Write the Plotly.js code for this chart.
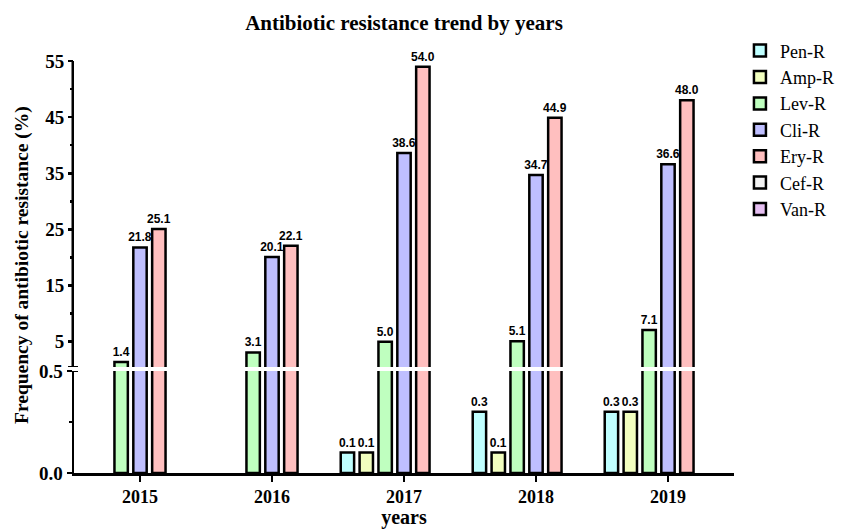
<!DOCTYPE html>
<html>
<head>
<meta charset="utf-8">
<script src="https://cdn.plot.ly/plotly-3.0.1.min.js"></script>
<style>html,body{margin:0;padding:0;background:#fff;}</style>
</head>
<body>
<div id="chart" style="width:860px;height:529px;"></div>
<script>
// ---- data ----
const years = ['2015', '2016', '2017', '2018', '2019'];
const seriesNames = ['Pen-R', 'Amp-R', 'Lev-R', 'Cli-R', 'Ery-R', 'Cef-R', 'Van-R'];
const penR = [0, 0, 0.1, 0.3, 0.3];
const ampR = [0, 0, 0.1, 0.1, 0.3];
const levR = [1.4, 3.1, 5.0, 5.1, 7.1];
const cliR = [21.8, 20.1, 38.6, 34.7, 36.6];
const eryR = [25.1, 22.1, 54.0, 44.9, 48.0];
const cefR = [0, 0, 0, 0, 0];
const vanR = [0, 0, 0, 0, 0];
const upperTicks = [5, 15, 25, 35, 45, 55];
const upperMinor = [10, 20, 30, 40, 50];
const lowerTicks = [0, 0.5];
const lowerTickText = ['0.0', '0.5'];
const breakValue = 0.5;

const seriesValues = [penR, ampR, levR, cliR, eryR, cefR, vanR];
const colors = ['#BFFFFF', '#F2FFBF', '#BFFFBF', '#BFBFFF', '#FFBFBF', '#F2F2F2', '#E6BFF2'];

const serif = 'Liberation Serif, Times New Roman, serif';
const sans = 'Liberation Sans, Arial, sans-serif';

const traces = [];
seriesValues.forEach((vals, i) => {
  const common = {
    type: 'bar', x: years, name: seriesNames[i],
    marker: {color: colors[i], line: {color: '#000', width: 2.5}},
    textposition: 'outside', constraintext: 'none', cliponaxis: true,
    textfont: {family: sans, size: 12, color: '#000', weight: 'bold'},
    hoverinfo: 'x+y+name'
  };
  // upper segment (values above the break)
  traces.push(Object.assign({}, common, {
    yaxis: 'y2', legendgroup: seriesNames[i], showlegend: true,
    y: vals.map(v => v > breakValue ? v : null),
    text: vals.map(v => v > breakValue ? v.toFixed(1) : '')
  }));
  // lower segment (0 .. break)
  traces.push(Object.assign({}, common, {
    yaxis: 'y', legendgroup: seriesNames[i], showlegend: false,
    y: vals.map(v => v > 0 ? v : null),
    text: vals.map(v => (v > 0 && v <= breakValue) ? v.toFixed(1) : '')
  }));
});

const tickFont = {family: serif, size: 19, color: '#000', weight: 'bold'};
const xTickFont = {family: serif, size: 18, color: '#000', weight: 'bold'};
const titleFont = {family: serif, size: 20, color: '#000', weight: 'bold'};

const layout = {
  width: 860, height: 529,
  margin: {l: 74, r: 126, t: 44, b: 56},
  paper_bgcolor: '#fff', plot_bgcolor: 'rgba(0,0,0,0)',
  font: {family: serif, color: '#000'},
  barmode: 'group', bargap: 0, bargroupgap: 0.29,
  title: {
    text: '<b>Antibiotic resistance trend by years</b>',
    font: {family: serif, size: 21, color: '#000'},
    xref: 'paper', x: 0.5, xanchor: 'center',
    yref: 'container', y: 0.958, yanchor: 'middle'
  },
  xaxis: {
    type: 'category', range: [-0.5, 4.5], anchor: 'y',
    showline: true, linecolor: '#000', linewidth: 2.5,
    ticks: 'outside', ticklen: 6, tickwidth: 2.5, tickcolor: '#000',
    tickfont: xTickFont, showgrid: false, zeroline: false,
    title: {text: '<b>years</b>', font: titleFont, standoff: 6}
  },
  yaxis: {
    domain: [0, 0.2378], range: [0, 0.5],
    tickmode: 'array', tickvals: lowerTicks, ticktext: lowerTickText,
    minor: {tickmode: 'array', tickvals: [0.25], ticks: 'outside', ticklen: 3, tickwidth: 2.5, tickcolor: '#000', showgrid: false},
    showline: true, linecolor: '#000', linewidth: 2.5,
    ticks: 'outside', ticklen: 5, tickwidth: 2.5, tickcolor: '#000',
    tickfont: tickFont, showgrid: false, zeroline: false
  },
  yaxis2: {
    domain: [0.2471, 1], range: [0.5, 58.03], anchor: 'x',
    tickmode: 'array', tickvals: upperTicks,
    minor: {tickmode: 'array', tickvals: upperMinor, ticks: 'outside', ticklen: 3, tickwidth: 2.5, tickcolor: '#000', showgrid: false},
    showline: false,
    ticks: 'outside', ticklen: 5, tickwidth: 2.5, tickcolor: '#000',
    tickfont: tickFont, showgrid: false, zeroline: false
  },
  legend: {
    x: 1.009, xanchor: 'left', y: 1.027, yanchor: 'top',
    font: {family: serif, size: 18, color: '#000'},
    bgcolor: 'rgba(0,0,0,0)', borderwidth: 0, traceorder: 'normal'
  },
  annotations: [{
    text: '<b>Frequency of antibiotic resistance (%)</b>',
    textangle: -90, showarrow: false,
    xref: 'paper', x: 0, xshift: -52, xanchor: 'center',
    yref: 'paper', y: 0.485, yanchor: 'middle',
    font: {family: serif, size: 19.5, color: '#000'}
  }],
  shapes: [
    {type: 'line', xref: 'paper', xsizemode: 'pixel', xanchor: 0, x0: -1.25, x1: -1.25,
     yref: 'y2', y0: breakValue, y1: 55, line: {color: '#000', width: 2.5}},
    {type: 'line', xref: 'paper', xsizemode: 'pixel', xanchor: 0, x0: -6, x1: 4,
     yref: 'y2', y0: breakValue, y1: breakValue, line: {color: '#000', width: 2}},
    {type: 'line', xref: 'paper', xsizemode: 'pixel', xanchor: 0, x0: -6, x1: 4,
     yref: 'y', y0: breakValue, y1: breakValue, line: {color: '#000', width: 2}}
  ]
};

Plotly.newPlot('chart', traces, layout, {displayModeBar: false, staticPlot: true});
</script>
</body>
</html>
